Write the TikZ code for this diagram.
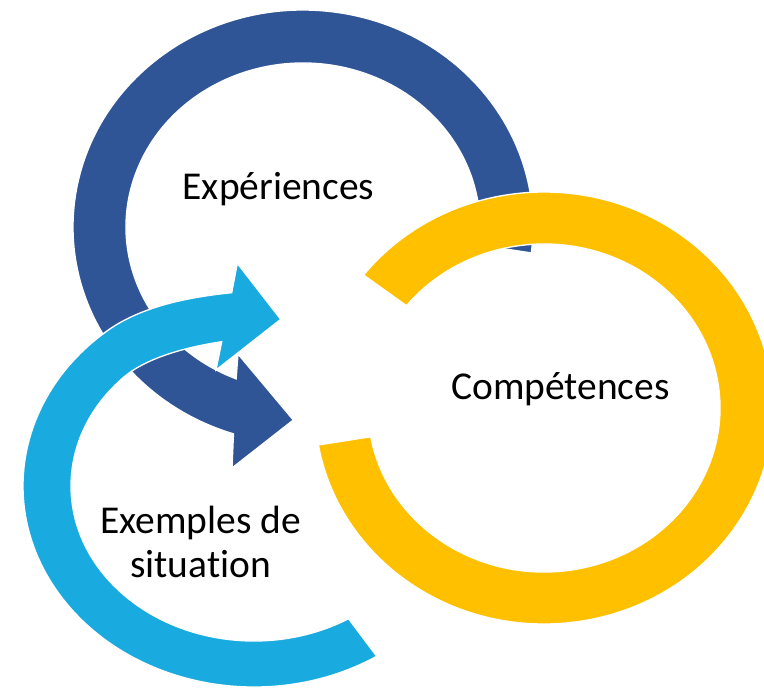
\documentclass[tikz,border=0pt]{standalone}
\usepackage{fontspec}
\setmainfont{Carlito}[Ligatures={NoCommon}]
\usetikzlibrary{calc}
\definecolor{ringblue}{HTML}{2F5597}
\definecolor{ringyellow}{HTML}{FFC000}
\definecolor{ringlight}{HTML}{19AADF}
\tikzset{
  ring/.style={draw=white, line width=1pt, line join=miter},
  label/.style={inner sep=0pt, font=\fontsize{29.6pt}{32.5pt}\selectfont, text=black}
}
\begin{document}
\begin{tikzpicture}[x=0.75pt, y=-0.75pt]
\useasboundingbox (0,0) rectangle (764,687);
\coordinate (cB) at (303,227);
\coordinate (cY) at (544,408);
\coordinate (cL) at (254,486);
% dark blue circular arrow
\fill[ring, fill=ringblue]
  ($(cB)+(6.86:230 and 217)$) arc[start angle=6.86, end angle=-252.4, x radius=230, y radius=217]
  -- (232,468) -- (293.3,420) -- (238,354)
  -- ($(cB)+(-247.8:177 and 164)$) arc[start angle=-247.8, end angle=6.3, x radius=177, y radius=164]
  -- cycle;
% yellow ring
\fill[ring, fill=ringyellow]
  ($(cY)+(-142:229 and 216)$) arc[start angle=-142, end angle=170.15, x radius=229, y radius=216]
  -- ($(cY)+(169.9:176 and 164)$) arc[start angle=169.9, end angle=-141.4, x radius=176, y radius=164]
  -- cycle;
% light blue circular arrow
\fill[ring, fill=ringlight]
  ($(cL)+(57.9:231 and 201)$) arc[start angle=57.9, end angle=230.9, x radius=231, y radius=201]
  .. controls (141,306.9) and (187,297.2) .. (231.7,292.7)
  -- (237.3,263.3) -- (280.7,319.3) -- (216,370) -- (221.7,341.7)
  .. controls (187.1,346.9) and (147.9,357.3) .. ($(cL)+(225:183 and 155)$)
  arc[start angle=225, end angle=58.9, x radius=183, y radius=155]
  -- cycle;
% labels
\node[label, anchor=base] (exp) at (278.5,199) {Expériences};
\node[label, anchor=base] (comp) at (560.5,399) {Compétences};
\node[label, anchor=base] (ex) at (200.5,577.3) {\begin{tabular}[b]{@{}c@{}}Exemples de\\situation\end{tabular}};
\end{tikzpicture}
\end{document}
